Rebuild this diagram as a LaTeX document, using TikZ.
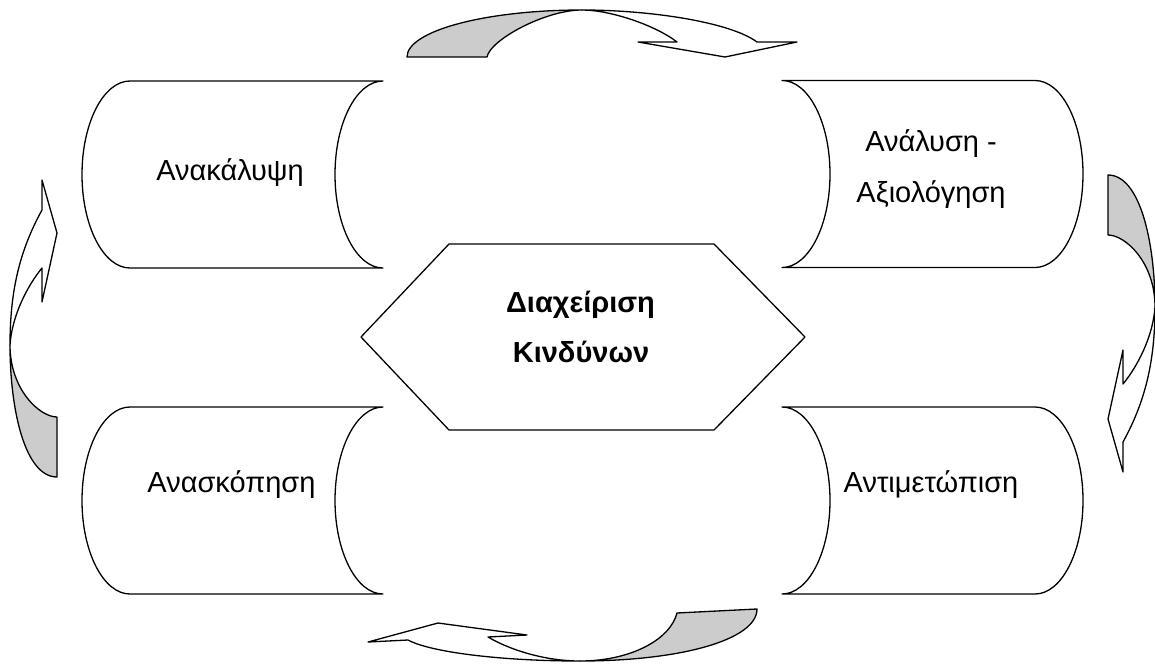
\documentclass[tikz,border=0pt]{standalone}
\usepackage{fontspec}
\setmainfont{Liberation Sans}
\definecolor{shade}{RGB}{204,204,204}
\begin{document}
\begin{tikzpicture}[x=1pt,y=-1pt,line join=round,
  outline/.style={draw=black,line width=1.3pt},
  backpart/.style={outline,fill=shade},
  frontpart/.style={outline,fill=white},
  boxtext/.style={font=\fontsize{29}{34}\selectfont,anchor=base,inner sep=0pt},
  hubtext/.style={boxtext,font=\fontsize{29}{34}\selectfont\bfseries},
  % stored-data box: convex left side, concave right side
  storebox/.pic={
    \draw[outline,fill=white] (-126.5,-93.5) -- (126.5,-93.5)
      .. controls (100,-93.5) and (78.5,-51.6) .. (78.5,0)
      .. controls (78.5,51.6) and (100,93.5) .. (126.5,93.5)
      -- (-126.5,93.5)
      .. controls (-153,93.5) and (-174.5,51.6) .. (-174.5,0)
      .. controls (-174.5,-51.6) and (-153,-93.5) .. (-126.5,-93.5) -- cycle;
  },
  % curved arrow that rises on the left and points right
  risearrow/.pic={
    \draw[frontpart] (10,345) .. controls (10,290) and (20,250) .. (42,210)
      -- (42,180) -- (57,233) -- (42,302) -- (42,268)
      .. controls (28,285) and (12,315) .. (10,345) -- cycle;
    \draw[backpart] (57,477) .. controls (25,477) and (10,410) .. (10,345)
      .. controls (10,390) and (40,417) .. (57,417) -- cycle;
  }
]
\useasboundingbox (0,0) rectangle (1155,664);

% the four process boxes
\pic at (256.5,174.5) {storebox};
\pic at (256.5,500.5) {storebox};
\pic[xscale=-1] at (908.5,174) {storebox};
\pic[xscale=-1] at (908.5,500.5) {storebox};

\node[boxtext] (discover) at (230,180) {Ανακάλυψη};
\node[boxtext] (analysis) at (931,151) {Ανάλυση -};
\node[boxtext] (assess) at (931,202) {Αξιολόγηση};
\node[boxtext] (treat) at (931,492) {Αντιμετώπιση};
\node[boxtext] (review) at (231.5,492) {Ανασκόπηση};

% central hexagon
\draw[outline,fill=white] (449,244) -- (714,244) -- (805,337) -- (714,430)
  -- (449,430) -- (361,337) -- cycle;
\node[hubtext] (hub1) at (580.5,312) {Διαχείριση};
\node[hubtext] (hub2) at (581,362) {Κινδύνων};

% top curved arrow
\draw[frontpart] (582,10) .. controls (650,10) and (730,22) .. (757,42)
  -- (797,42) -- (725,57) -- (638,42) -- (677,42)
  .. controls (655,25) and (610,10) .. (582,10) -- cycle;
\draw[backpart] (407,57) .. controls (407,31) and (485,10) .. (582,10)
  .. controls (545,10) and (490,40) .. (487,57) -- cycle;

% bottom curved arrow
\draw[frontpart] (580,661) .. controls (500,661) and (430,652) .. (408,640)
  -- (368,642) -- (438,623) -- (527,635) -- (488,637)
  .. controls (510,650) and (545,661) .. (580,661) -- cycle;
\draw[backpart] (757,609) .. controls (757,640) and (680,661) .. (580,661)
  .. controls (630,661) and (670,640) .. (677,613) -- cycle;

% side curved arrows
\pic at (0,0) {risearrow};
\pic[rotate around={180:(582.5,326)}] at (0,0) {risearrow};
\end{tikzpicture}
\end{document}
